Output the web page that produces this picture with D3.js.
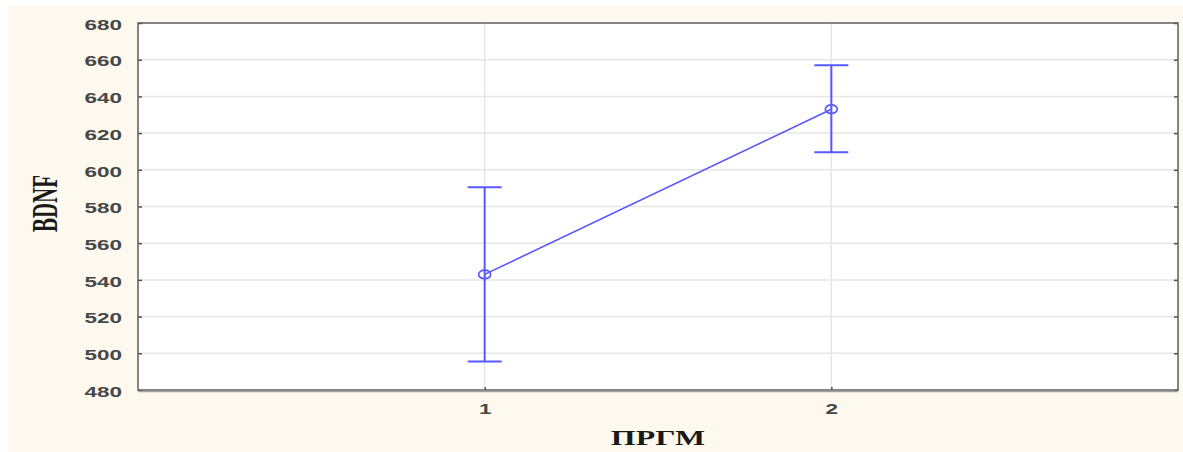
<!DOCTYPE html>
<html>
<head>
<meta charset="utf-8">
<script src="https://cdn.jsdelivr.net/npm/d3@7"></script>
<style>
  html, body { margin: 0; padding: 0; background: #ffffff; }
  svg { display: block; }
</style>
</head>
<body>
<svg id="chart" width="1183" height="452"></svg>
<script>
// Group means of BDNF with error-bar limits per ПРГМ group
const groups = [1, 2];
const meanValues = [543, 633];
const lowerValues = [495.5, 609.5];
const upperValues = [590.5, 657];
const yTicks = [480, 500, 520, 540, 560, 580, 600, 620, 640, 660, 680];
const xLabel = "ПРГМ";
const yLabel = "BDNF";

const W = 1183, H = 452;
const margin = { left: 138, right: 5, top: 23, bottom: 62 };
const plotW = W - margin.left - margin.right;
const plotH = H - margin.top - margin.bottom;
const stretch = 1.45; // horizontal text widening

const blue = "#5858ff";
const svg = d3.select("#chart");

// page background
svg.append("rect").attr("x", 0).attr("y", 0).attr("width", W).attr("height", H).attr("fill", "#ffffff");
svg.append("rect").attr("x", 8).attr("y", 6).attr("width", W - 8).attr("height", H - 6).attr("fill", "#fdf9ef");

const g = svg.append("g").attr("transform", `translate(${margin.left},${margin.top})`);

const x = d3.scaleLinear().domain([0, 3]).range([0, plotW]);
const y = d3.scaleLinear().domain([480, 680]).range([plotH, 0]);

// plot area
g.append("rect").attr("width", plotW).attr("height", plotH).attr("fill", "#ffffff");

// grid
g.append("g").selectAll("line.hg")
  .data(yTicks.filter(t => t > 480 && t < 680))
  .join("line")
  .attr("x1", 0).attr("x2", plotW)
  .attr("y1", d => y(d)).attr("y2", d => y(d))
  .attr("stroke", "#e6e6e6").attr("stroke-width", 1.5);
g.append("g").selectAll("line.vg")
  .data(groups)
  .join("line")
  .attr("x1", d => x(d)).attr("x2", d => x(d))
  .attr("y1", 0).attr("y2", plotH)
  .attr("stroke", "#e6e6e6").attr("stroke-width", 1.5);

// axes
const yAxis = g.append("g")
  .call(d3.axisLeft(y).tickValues(yTicks).tickSizeInner(-4).tickSizeOuter(0).tickPadding(0));
const yAxisR = g.append("g").attr("transform", `translate(${plotW},0)`)
  .call(d3.axisRight(y).tickValues(yTicks).tickSizeInner(-4).tickSizeOuter(0).tickFormat(""));
const xAxis = g.append("g").attr("transform", `translate(0,${plotH})`)
  .call(d3.axisBottom(x).tickValues(groups).tickSizeInner(-3).tickSizeOuter(0).tickPadding(0).tickFormat(d3.format("d")));

[yAxis, yAxisR, xAxis].forEach(a => {
  a.select(".domain").remove();
  a.selectAll(".tick line").attr("stroke", "#505050").attr("stroke-width", 1.5);
});

yAxis.selectAll(".tick text")
  .attr("x", null).attr("dy", null)
  .attr("dominant-baseline", "central")
  .attr("transform", `translate(-16,1) scale(${stretch},1)`)
  .attr("font-family", "'Liberation Sans', Arial, sans-serif")
  .attr("font-size", 15.5).attr("font-weight", "bold")
  .attr("fill", "#474747");

xAxis.selectAll(".tick text")
  .attr("y", null).attr("dy", null)
  .attr("transform", `translate(0,24) scale(${stretch},1)`)
  .attr("font-family", "'Liberation Sans', Arial, sans-serif")
  .attr("font-size", 15.5).attr("font-weight", "bold")
  .attr("fill", "#474747");

// frame
g.append("rect").attr("width", plotW).attr("height", plotH)
  .attr("fill", "none").attr("stroke", "#5e5e5e").attr("stroke-width", 1.5);
g.append("line").attr("x1", 0).attr("x2", plotW).attr("y1", plotH + 1.5).attr("y2", plotH + 1.5)
  .attr("stroke", "#a0a0a0").attr("stroke-width", 1.5);

// data
const rows = groups.map((k, i) => ({ k, m: meanValues[i], lo: lowerValues[i], hi: upperValues[i] }));
const cap = 17;

g.append("path").datum(rows)
  .attr("d", d3.line().x(d => x(d.k)).y(d => y(d.m)))
  .attr("fill", "none").attr("stroke", blue).attr("stroke-width", 1.6);

const eb = g.append("g").selectAll("g").data(rows).join("g")
  .attr("stroke", blue).attr("stroke-width", 2).attr("fill", "none");
eb.append("line").attr("x1", d => x(d.k)).attr("x2", d => x(d.k))
  .attr("y1", d => y(d.lo)).attr("y2", d => y(d.hi));
eb.append("line").attr("x1", d => x(d.k) - cap).attr("x2", d => x(d.k) + cap)
  .attr("y1", d => y(d.hi)).attr("y2", d => y(d.hi));
eb.append("line").attr("x1", d => x(d.k) - cap).attr("x2", d => x(d.k) + cap)
  .attr("y1", d => y(d.lo)).attr("y2", d => y(d.lo));
eb.append("ellipse").attr("cx", d => x(d.k)).attr("cy", d => y(d.m))
  .attr("rx", 6).attr("ry", 4.3).attr("stroke-width", 1.7);

// axis titles
svg.append("text")
  .attr("transform", `translate(${margin.left + plotW / 2},445) scale(${stretch},1)`)
  .attr("text-anchor", "middle")
  .attr("font-family", "'Liberation Serif', 'Times New Roman', serif")
  .attr("font-size", 22).attr("font-weight", "bold").attr("fill", "#1a1a1a")
  .text(xLabel);

svg.append("text")
  .attr("transform", `translate(57,${margin.top + plotH / 2 - 3}) scale(1.7,1) rotate(-90)`)
  .attr("text-anchor", "middle")
  .attr("font-family", "'Liberation Serif', 'Times New Roman', serif")
  .attr("font-size", 21).attr("font-weight", "bold").attr("fill", "#1a1a1a")
  .text(yLabel);
</script>
</body>
</html>
